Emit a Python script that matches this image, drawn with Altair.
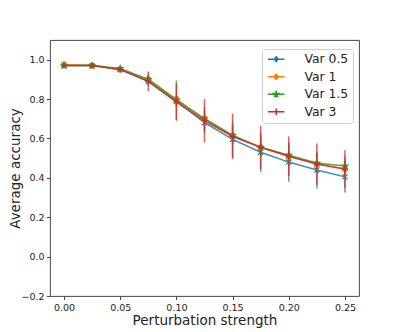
import math
import altair as alt
import pandas as pd

# ---- data ----
x_vals = [0.0, 0.025, 0.05, 0.075, 0.1, 0.125, 0.15, 0.175, 0.2, 0.225, 0.25]
series_names = ["Var 0.5", "Var 1", "Var 1.5", "Var 3"]
colors = ["#1f77b4", "#ff7f0e", "#2ca02c", "#d62728"]

mean_var05 = [0.97, 0.97, 0.95, 0.89, 0.79, 0.68, 0.595, 0.53, 0.48, 0.44, 0.405]
err_var05 = [0.01, 0.01, 0.01, 0.02, 0.03, 0.05, 0.09, 0.10, 0.10, 0.095, 0.08]
mean_var1 = [0.975, 0.97, 0.95, 0.90, 0.80, 0.70, 0.615, 0.555, 0.51, 0.47, 0.445]
err_var1 = [0.01, 0.01, 0.01, 0.02, 0.03, 0.04, 0.05, 0.05, 0.05, 0.05, 0.05]
mean_var15 = [0.97, 0.97, 0.955, 0.90, 0.795, 0.70, 0.615, 0.555, 0.515, 0.475, 0.46]
err_var15 = [0.01, 0.01, 0.01, 0.03, 0.10, 0.06, 0.05, 0.05, 0.05, 0.05, 0.05]
mean_var3 = [0.97, 0.97, 0.95, 0.89, 0.785, 0.69, 0.61, 0.555, 0.51, 0.47, 0.445]
err_var3 = [0.01, 0.01, 0.01, 0.05, 0.095, 0.11, 0.115, 0.11, 0.10, 0.105, 0.095]

x_ticks = [0.0, 0.05, 0.10, 0.15, 0.20, 0.25]
y_ticks = [-0.2, 0.0, 0.2, 0.4, 0.6, 0.8, 1.0]

means = [mean_var05, mean_var1, mean_var15, mean_var3]
errs = [err_var05, err_var1, err_var15, err_var3]

rows = []
for si, name in enumerate(series_names):
    for xv, m, e in zip(x_vals, means[si], errs[si]):
        rows.append({"x": xv, "y": m, "lo": m - e, "hi": m + e, "series": name, "order": si})
df = pd.DataFrame(rows)

# ---- marker shapes ----
def star(s, inner=0.42):
    pts = []
    for k in range(10):
        ang = math.radians(-90 + k * 36)
        r = s if k % 2 == 0 else s * inner
        pts.append((r * math.cos(ang), r * math.sin(ang)))
    return "M" + "L".join(f"{px:.3f},{py:.3f}" for px, py in pts) + "Z"

def circle_path(r):
    return f"M{r},0A{r},{r} 0 1,1 {-r},0A{r},{r} 0 1,1 {r},0Z"

X_PATH = "M-1,-1L1,1M-1,1L1,-1"
PLUS_PATH = "M-1,0L1,0M0,-1L0,1"

LEG_BASE = "M-1.65,0L1.65,0M0,-0.65L0,0.65"
legend_shapes = [
    LEG_BASE + "M-0.32,-0.32L0.32,0.32M-0.32,0.32L0.32,-0.32",
    LEG_BASE + circle_path(0.36),
    LEG_BASE + star(0.48),
    LEG_BASE + "M-0.4,0L0.4,0M0,-0.4L0,0.4",
]

x_scale = alt.Scale(domain=[-0.0125, 0.2625], nice=False, zero=False)
y_scale = alt.Scale(domain=[-0.2, 1.1], nice=False, zero=False)

X = alt.X("x:Q", scale=x_scale,
          axis=alt.Axis(values=x_ticks, format=".2f", title="Perturbation strength"))
Y = alt.Y("y:Q", scale=y_scale,
          axis=alt.Axis(values=y_ticks, format=".1f", title="Average accuracy"))
Xp = alt.X("x:Q", scale=x_scale)

base = alt.Chart(df)

marker_specs = [
    (X_PATH, False, 26),
    ("circle", True, 26),
    (star(1.0), True, 34),
    (PLUS_PATH, False, 36),
]

layers = []
for si, name in enumerate(series_names):
    col = colors[si]
    shp, filled, sz = marker_specs[si]
    sub = base.transform_filter(alt.datum.series == name)
    layers.append(
        sub.mark_rule(strokeWidth=1.5, opacity=0.75, color=col).encode(
            x=Xp, y=alt.Y("lo:Q", scale=y_scale), y2="hi:Q")
    )
    layers.append(
        sub.mark_line(strokeWidth=1.5, opacity=0.85, color=col).encode(x=X, y=Y)
    )
    layers.append(
        sub.mark_point(shape=shp, filled=filled, size=sz, opacity=1, strokeWidth=1.2,
                       color=col, stroke=col)
        .encode(x=Xp, y=alt.Y("y:Q", scale=y_scale))
    )

leg = alt.Legend(title=None, orient="none", legendX=212, legendY=9, symbolOpacity=1)

legend_layer = base.mark_point(
    filled=True, size=256, opacity=0, strokeWidth=1.5
).encode(
    x=Xp,
    y=alt.Y("y:Q", scale=y_scale),
    fill=alt.Fill("series:N", scale=alt.Scale(domain=series_names, range=colors), legend=leg),
    stroke=alt.Stroke("series:N", scale=alt.Scale(domain=series_names, range=colors), legend=leg),
    shape=alt.Shape("series:N", scale=alt.Scale(domain=series_names, range=legend_shapes), legend=leg),
)

chart = alt.layer(*layers, legend_layer).properties(
    width=309, height=256,
    autosize=alt.AutoSizeParams(type="none"),
    padding={"left": 42, "top": 32, "right": 31, "bottom": 34},
).configure_view(
    stroke="#333333", strokeWidth=0.9
).configure_axis(
    grid=False, domain=False, tickColor="#333333", tickSize=3.5, tickWidth=0.9,
    labelColor="#222222", labelFont="DejaVu Sans", labelFontSize=9.5, labelPadding=2.5,
    titleFont="DejaVu Sans", titleFontSize=13.5, titleFontWeight="normal",
    titleColor="#222222",
).configure_axisY(
    titlePadding=-2,
).configure_axisX(
    titlePadding=2,
).configure_legend(
    strokeColor="#d0d0d0", fillColor="white", cornerRadius=3, padding=4,
    labelFont="DejaVu Sans", labelFontSize=12.4, labelColor="#222222",
    labelOffset=22, symbolOffset=4, rowPadding=3.5, symbolStrokeWidth=1.5,
)

chart.save("out.html", embed_options={"renderer": "svg", "actions": False})
